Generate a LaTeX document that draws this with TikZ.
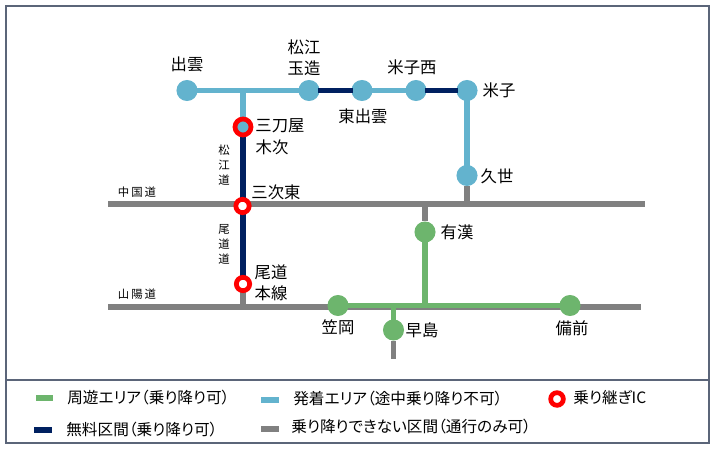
\documentclass[tikz,border=0pt]{standalone}
\usepackage{fontspec}
\setmainfont[RawFeature=+palt]{Noto Sans CJK JP}
\usetikzlibrary{positioning,calc}
\definecolor{frameslate}{HTML}{5B6579}
\definecolor{areablue}{HTML}{63B3CE}
\definecolor{areagreen}{HTML}{6DB56D}
\definecolor{freenavy}{HTML}{002060}
\definecolor{roadgray}{HTML}{808080}
\tikzset{stnblue/.style={circle,fill=areablue,minimum size=12pt,inner sep=0pt,outer sep=0pt},stngreen/.style={circle,fill=areagreen,minimum size=12pt,inner sep=0pt,outer sep=0pt},icring/.style={circle,draw=red,line width=2.7pt,fill=white,minimum size=7.6pt,inner sep=0pt},stnlabel/.style={font=\fontsize{9.3pt}{12pt}\selectfont,align=center,inner sep=0pt},roadlabel/.style={font=\fontsize{6.5pt}{8.6pt}\selectfont,align=center,inner sep=0pt},legendlabel/.style={font=\fontsize{8.9pt}{10pt}\selectfont,anchor=west,inner sep=0pt},legendkey/.style={minimum width=10pt,minimum height=2.9pt,inner sep=0pt},bluearr/.style={draw=areablue,line width=3.4pt,shorten <=-1pt,shorten >=-1pt},greenarr/.style={draw=areagreen,line width=3.4pt,shorten <=-1pt,shorten >=-1pt},navyarr/.style={draw=freenavy,line width=3.4pt,shorten <=-1pt,shorten >=-1pt},grayarr/.style={draw=roadgray,line width=3.4pt}}
\begin{document}
\begin{tikzpicture}[x=0.02cm,y=-0.02cm]
\useasboundingbox (0,0) rectangle (715,449);
\node[draw=frameslate,line width=1.3pt,minimum width=703*0.02cm,minimum height=437*0.02cm,inner sep=0pt] (outer) at (357.5,224.5) {};
\coordinate (sepl) at (6,380);
\coordinate (sepr) at (709,380);
\draw[draw=frameslate,line width=1.3pt] (sepl)--(sepr);
% expressways
\coordinate (chugokul) at (108,204);
\coordinate (chugokur) at (645,204);
\coordinate (sanyol) at (108,307);
\coordinate (sanyor) at (641,307);
\coordinate (hayaend) at (393.5,359);
\draw[grayarr] (chugokul)--(chugokur);
\draw[grayarr] (sanyol)--(sanyor);
% stations
\node[stnblue] (izumo) at (187,90.5) {};
\node[stnblue] (tamatsukuri) at (309,90.5) {};
\node[stnblue] (higashi) at (362,90.5) {};
\node[stnblue] (yonagonishi) at (416,90.5) {};
\node[stnblue] (yonago) at (467,90.5) {};
\node[stnblue] (kuse) at (467,175.5) {};
\node[stngreen] (ukan) at (425,232) {};
\node[stngreen] (kasaoka) at (338,305.5) {};
\node[stngreen] (hayashima) at (393.5,330) {};
\node[stngreen] (bizen) at (570,305.5) {};
\coordinate (mitoyaj) at (243,90.5);
\coordinate (mitoyac) at (243,127);
\coordinate (onomichic) at (243,284);
\coordinate (ukanj) at (425,305.5);
\coordinate (hayaj) at (393.5,305.5);
\coordinate (chugokuk) at (467,204);
\coordinate (chugokuu) at (425,204);
\coordinate (sanyoo) at (243,307);
% connectors
\draw[bluearr] (izumo)--(tamatsukuri);
\draw[navyarr] (tamatsukuri)--(higashi);
\draw[bluearr] (higashi)--(yonagonishi);
\draw[navyarr] (yonagonishi)--(yonago);
\draw[bluearr] (yonago)--(kuse);
\draw[bluearr] (mitoyaj)--(mitoyac);
\draw[navyarr] (mitoyac)--(onomichic);
\draw[grayarr] (onomichic)--(sanyoo);
\draw[grayarr] (kuse)--(chugokuk);
\draw[grayarr] (chugokuu)--(ukan);
\draw[greenarr] (kasaoka)--(bizen);
\draw[greenarr] (ukan)--(ukanj);
\draw[greenarr] (hayaj)--(hayashima);
\draw[grayarr] (hayashima)--(hayaend);
\node[icring] (miyoshi) at (242.5,206) {};
\node[icring] (onomichi) at (onomichic) {};
\node[icring,fill=areablue,minimum size=9.1pt] (mitoya) at (mitoyac) {};
% labels
\node[stnlabel] (lizumo) at (187,64) {出雲};
\node[stnlabel] (ltama) at (304,57.5) {松江\\玉造};
\node[stnlabel] (lhigashi) at (363,116) {東出雲};
\node[stnlabel] (lnishi) at (412,67) {米子西};
\node[stnlabel] (lyonago) at (499,90) {米子};
\node[stnlabel] (lkuse) at (497,176) {久世};
\node[stnlabel] (lukan) at (457,232) {有漢};
\node[stnlabel] (lhaya) at (422,330) {早島};
\node[stnlabel] (lbizen) at (572,328) {備前};
\node[stnlabel] (lkasa) at (338,327) {笠岡};
\node[stnlabel] (lmitoya) at (280,126) {三刀屋};
\node[stnlabel] (lkisuki) at (272,147) {木次};
\node[stnlabel] (lmiyoshi) at (276,192) {三次東};
\node[stnlabel] (lono) at (271,272) {尾道};
\node[stnlabel] (lhonsen) at (271,293) {本線};
\node[roadlabel] (lchugoku) at (137,192) {中\,国\,道};
\node[roadlabel] (lsanyo) at (137,294) {山\,陽\,道};
\node[roadlabel] (lmatsue) at (224,165) {松\\江\\道};
\node[roadlabel] (lonodo) at (224,244) {尾\\道\\道};
% legend
\node[legendkey,fill=areagreen] (kgreen) at (44.5,398) {};
\node[legendkey,fill=freenavy] (knavy) at (43,430) {};
\node[legendkey,fill=areablue] (kblue) at (270,400) {};
\node[legendkey,fill=roadgray] (kgray) at (270,429) {};
\node[icring,minimum size=7.2pt] (kring) at (557,399) {};
\node[legendlabel] (tgreen) at (67,398) {周遊エリア（乗り降り可）};
\node[legendlabel] (tnavy) at (66,430) {無料区間（乗り降り可）};
\node[legendlabel] (tblue) at (293,399) {発着エリア（途中乗り降り不可）};
\node[legendlabel] (tgray) at (291,427) {乗り降りできない区間（通行のみ可）};
\node[legendlabel] (tring) at (573,398) {乗り継ぎIC};
\end{tikzpicture}
\end{document}
